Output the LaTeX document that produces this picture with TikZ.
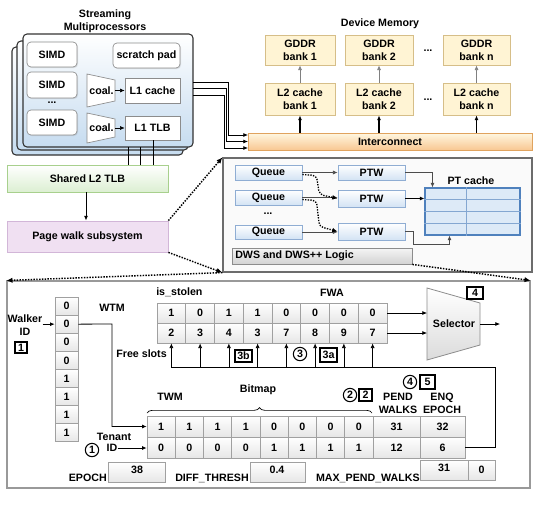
\documentclass[tikz,border=0pt]{standalone}
\usepackage{fontspec}
\setmainfont{Liberation Sans}
\usetikzlibrary{fit,arrows.meta,decorations.pathreplacing,shadows,calc}
\definecolor{smblue}{HTML}{C6DCF0}
\definecolor{grayb}{HTML}{8C8C8C}
\definecolor{greenf}{HTML}{DCEFD2}
\definecolor{greenb}{HTML}{A8D08D}
\definecolor{purpf}{HTML}{F0E0F2}
\definecolor{purpb}{HTML}{D2B6D8}
\definecolor{yelf}{HTML}{FFF4D4}
\definecolor{yelb}{HTML}{D6BE88}
\definecolor{orgf}{HTML}{F8C792}
\definecolor{orgb}{HTML}{E0A35E}
\definecolor{qf}{HTML}{D3E3F4}
\definecolor{qb}{HTML}{8FADD3}
\definecolor{ptcf}{HTML}{DDEAF7}
\definecolor{ptcb}{HTML}{4F81BD}
\definecolor{cellf}{HTML}{E6E6E6}
\definecolor{cellb}{HTML}{A0A0A0}
% box from corner to corner, text placed at its centre
\newcommand\bx[5][]{\node[#1, fit={(#3)(#4)}] (#2) {};\node[align=center] (#2-t) at (#2.center) {#5};}
\begin{document}
\begin{tikzpicture}[x=0.75pt,y=-0.75pt,
  every node/.style={font=\bfseries\fontsize{8}{9.6}\selectfont, inner sep=0pt},
  smbox/.style={draw=black!80, line width=0.8pt, rounded corners=3pt, top color=white, bottom color=smblue},
  wbox/.style={draw=grayb, fill=white, line width=0.5pt},
  rbox/.style={wbox, rounded corners=3pt, drop shadow={opacity=.2,shadow xshift=0.8pt,shadow yshift=-0.8pt}},
  l2s/.style={draw=greenb, line width=0.6pt, top color=white, bottom color=greenf},
  pws/.style={draw=purpb, line width=0.6pt, fill=purpf},
  mem/.style={draw=yelb, line width=0.6pt, fill=yelf, drop shadow={opacity=.2,shadow xshift=0.8pt,shadow yshift=-0.8pt}},
  ics/.style={draw=orgb, line width=0.6pt, top color=yelf!70, bottom color=orgf},
  qbox/.style={draw=qb, line width=0.6pt, top color=white, bottom color=qf},
  cell/.style={draw=cellb, line width=0.5pt, top color=white, bottom color=cellf},
  arr/.style={-{Latex[length=3.5pt,width=3pt]}},
  dotarr/.style={densely dotted, line width=1.1pt, -{Latex[length=4.5pt,width=4pt]}},
  tag/.style={draw=black, line width=0.8pt},
  circ/.style={draw=black, circle, line width=0.8pt, minimum size=10pt}
]
\useasboundingbox (0,0) rectangle (541,508);

% ---------------- Streaming multiprocessors ----------------
\node[align=center] (smtitle) at (105,21) {Streaming\\Multiprocessors};
\node[smbox, fit={(12,47)(183,155)}] (sm3) {};
\node[smbox, fit={(17,41)(188,150)}] (sm2) {};
\node[smbox, fit={(23,34)(193,147)}] (smf) {};
\bx[rbox]{simd1}{27,42}{77,67}{SIMD}
\bx[rbox]{simd2}{27,72}{77,98}{SIMD}
\node (sdots) at (52,103) {...};
\bx[rbox]{simd3}{27,110}{77,135}{SIMD}
\bx[rbox]{scratch}{113,43}{180,68}{scratch pad}
\draw[wbox] (87,74) -- (115,80) -- (115,101) -- (87,107) -- cycle;
\node (coal1) at (101.5,90.5) {coal.};
\bx[wbox]{l1c}{125,78}{180,103}{L1 cache}
\draw[wbox] (87,113) -- (115,119) -- (115,137) -- (87,143) -- cycle;
\node (coal2) at (101.5,128) {coal.};
\bx[wbox]{l1t}{125,116}{180,140}{L1 TLB}
\coordinate (c1e) at (115,90.5);
\coordinate (c2e) at (115,128);
\draw[arr, line width=0.4pt] (c1e) -- (c1e -| l1c.west);
\draw[arr, line width=0.4pt] (c2e) -- (c2e -| l1t.west);

% ---------------- L2 TLB, page walk ----------------
\bx[l2s]{l2tlb}{7,165}{168,192}{Shared L2 TLB}
\bx[pws]{pws}{7,221}{168,252}{Page walk subsystem}
\coordinate (v1) at (128,147);
\coordinate (v2) at (140,147);
\coordinate (v3) at (153,140);
\draw[line width=0.6pt] (v1) -- (v1 |- l2tlb.north);
\draw[line width=0.6pt] (v2) -- (v2 |- l2tlb.north);
\draw[line width=0.6pt] (v3) -- (v3 |- l2tlb.north);
\coordinate (vx) at (86,0);
\draw[arr, line width=0.7pt] (vx |- l2tlb.south) -- (vx |- pws.north);

% ---------------- Device memory ----------------
\node (dmtitle) at (380,24) {Device Memory};
\bx[mem]{g1}{265,35}{335,65}{GDDR\\bank 1}
\bx[mem]{g2}{345,35}{413,65}{GDDR\\bank 2}
\bx[mem]{gn}{443,35}{510,65}{GDDR\\bank n}
\node (gdots) at (428,51) {...};
\bx[mem]{c1}{265,83}{335,115}{L2 cache\\bank 1}
\bx[mem]{c2}{345,83}{413,115}{L2 cache\\bank 2}
\bx[mem]{cn}{443,83}{510,115}{L2 cache\\bank n}
\node (cdots) at (428,100) {...};
\bx[ics]{ic}{248,133}{532,150}{Interconnect}
\foreach \n/\g in {c1/g1,c2/g2,cn/gn}{
  \draw[arr, gray, line width=0.5pt] (\n.north) -- (\g.south);
  \draw[arr, line width=1pt] (ic.north -| \n.south) -- (\n.south);
}
\coordinate (s1) at (193,82); \coordinate (s2) at (193,88); \coordinate (s3) at (193,95);
\coordinate (i1) at (248,135); \coordinate (i2) at (248,141.5); \coordinate (i3) at (248,148);
\draw[arr, line width=0.6pt] (s1) -- ++(35,0) |- (i1);
\draw[arr, line width=0.6pt] (s2) -- ++(33,0) |- (i2);
\draw[arr, line width=0.6pt] (s3) -- ++(31,0) |- (i3);

% ---------------- DWS box ----------------
\node[draw=gray!85!black, line width=0.9pt, fill=gray!4, fit={(223,158)(532,272)}] (dws) {};
\bx[qbox]{q1}{235,165}{302,180}{Queue}
\bx[qbox]{q2}{235,190}{302,205}{Queue}
\node (qdots) at (268,214) {...};
\bx[qbox]{q3}{235,225}{302,239}{Queue}
\bx[qbox]{p1}{338,165}{405,180}{PTW}
\bx[qbox]{p2}{338,190}{405,207}{PTW}
\bx[qbox]{p3}{338,223}{405,240}{PTW}
\node (ptctitle) at (471,181) {PT cache};
\node[draw=ptcb, line width=0.8pt, fill=ptcf, fit={(425,188)(520,235)}] (ptc) {};
\draw[ptcb!70, line width=0.5pt] ($(ptc.north west)+(42,0)$) -- ($(ptc.south west)+(42,0)$);
\foreach \d in {12,24,36}{
  \draw[ptcb!70, line width=0.5pt] ($(ptc.north west)+(0,\d)$) -- ($(ptc.north east)+(0,\d)$);
}
\node[draw=grayb, line width=0.6pt, top color=gray!8, bottom color=gray!35, fit={(232,248)(412,264)}] (logic) {};
\node[anchor=west] (logictxt) at (235,256) {DWS and DWS++ Logic};

\draw[arr, gray!60!black, line width=0.5pt] (q1.east) -- (q1.east -| p1.west);
\draw[arr, gray!60!black, line width=0.5pt] (q2.east) -- (q2.east -| p2.west);
\draw[arr, gray!60!black, line width=0.5pt] (q3.east) -- (q3.east -| p3.west);
\draw[densely dotted, line width=1pt, -{Latex[length=4pt,width=3.5pt]}, rounded corners=3pt]
  ($(q1.east)+(0,2)$) -- ++(14,1) -- ++(3,19) -- (p2.west);
\draw[densely dotted, line width=1pt, -{Latex[length=4pt,width=3.5pt]}, rounded corners=3pt]
  ($(q2.east)+(0,2)$) -- ++(14,1) -- ++(3,26) -- (p3.west);
\draw[arr, gray!60!black, line width=0.5pt] (p1.east) -| ($(ptc.north west)+(8,0)$);
\draw[arr, line width=1.2pt] (p2.east) -- (p2.east -| ptc.west);
\draw[arr, gray!60!black, line width=0.5pt] (p3.east) -- ++(8,0) -- ++(0,13) -| ($(ptc.south west)+(25,0)$);

% ---------------- bottom panel ----------------
\node[draw=gray!80, line width=0.8pt, fit={(7,281)(530,488)}] (bp) {};

\draw[dotarr] (pws.north east) -- (dws.north west);
\draw[dotarr] (pws.south east) -- (dws.south west);
\draw[dotarr] (dws.south west) -- (bp.north west);
\draw[dotarr] (logic.south east) -- (bp.north east);

% WTM
\node[align=center] (wid) at (25,325) {Walker\\ID};
\bx[tag]{tg1}{15,342}{27,353}{1}
\node (wtm) at (112,308) {WTM};
\foreach \v [count=\i] in {0,0,0,0,1,1,1,1}{
  \pgfmathsetmacro\ya{297+18.1*(\i-1)}
  \pgfmathsetmacro\yb{297+18.1*\i}
  \bx[cell]{w\i}{55,\ya}{78,\yb}{\v}
}
\draw[arr, line width=0.6pt] (wid.east |- w2.west) -- (w2.west);

% FWA
\node[anchor=west] (isst) at (156,292) {is\_stolen};
\node (fwa) at (332,293) {FWA};
\foreach \t/\b [count=\i] in {1/2,0/3,1/4,1/3,0/7,0/8,0/9,0/7}{
  \pgfmathsetmacro\xa{157+28.75*(\i-1)}
  \pgfmathsetmacro\xb{157+28.75*\i}
  \bx[cell]{ft\i}{\xa,303}{\xb,323}{\t}
  \bx[cell]{fb\i}{\xa,323}{\xb,343}{\b}
}

% selector
\draw[draw=grayb, line width=0.6pt, top color=white, bottom color=gray!28] (427,288) -- (480,303) -- (480,345) -- (427,360) -- cycle;
\node (sel) at (454,324) {Selector};
\coordinate (selL) at (427,324);
\coordinate (selR) at (480,324);
\coordinate (selO) at (500,324);
\draw[arr, line width=0.5pt] (ft8.east) -- (ft8.east -| selL);
\draw[arr, line width=0.5pt] (fb8.east) -- (fb8.east -| selL);
\draw[arr, line width=0.5pt] (selR) -- (selO);
\bx[tag]{tg4}{467,287}{483,299}{4}

% free slots
\node[anchor=east] (free) at (167,354) {Free slots};
\coordinate (fsR) at (495,367);
\bx[tag]{tg3b}{235,350}{252,362}{3b}
\node[circ] (ci3) at (300,354) {3};
\bx[tag]{tg3a}{320,348}{337,362}{3a}

% TWM
\node (twm) at (170,397) {TWM};
\node (bitmap) at (258,390) {Bitmap};
\draw[decorate, decoration={brace, amplitude=4pt}, line width=0.5pt] (147,413) -- (372,413);
\foreach \t/\b [count=\i] in {1/0,1/0,1/0,1/0,0/1,0/1,0/1,0/1}{
  \pgfmathsetmacro\xa{147+28.25*(\i-1)}
  \pgfmathsetmacro\xb{147+28.25*\i}
  \bx[cell]{tt\i}{\xa,416}{\xb,437}{\t}
  \bx[cell]{tb\i}{\xa,437}{\xb,458}{\b}
}
\bx[cell]{pe1}{373,416}{420,437}{31}
\bx[cell]{pe2}{373,437}{420,458}{12}
\bx[cell]{en1}{420,416}{465,437}{32}
\bx[cell]{en2}{420,437}{465,458}{6}
\node[align=center] (pendl) at (398,403) {PEND\\WALKS};
\node[align=center] (enql) at (442,403) {ENQ\\EPOCH};
\node[circ] (ci2) at (350,395) {2};
\bx[tag]{tg2}{359,389}{372,401}{2}
\node[circ] (ci4) at (410,382) {4};
\bx[tag]{tg5}{420,375}{435,389}{5}

% free slots wiring
\draw[line width=0.6pt] (en2.east) -| (fsR) -- (fsR -| fb1.south);
\foreach \i in {1,...,8}{
  \draw[arr, line width=0.5pt] (fsR -| fb\i.south) -- (fb\i.south);
}
% WTM to TWM
\coordinate (wtmx) at (112,324);
\draw[arr, line width=0.6pt] (w2.east) -- (wtmx) |- (tt1.west);

% tenant
\node (tenant) at (114,437) {Tenant};
\node (idl) at (112,448) {ID};
\node[circ] (ci1) at (92,450) {1};
\draw[arr, line width=0.6pt] (idl.east) -- (idl.east -| tb1.west);

% registers
\node[anchor=east] (epochl) at (107,478) {EPOCH};
\node[cell, fit={(108,462)(165,482)}] (epoch) {};
\node (epochv) at (137,470) {38};
\node[anchor=east] (diffl) at (249,478) {DIFF\_THRESH};
\node[cell, fit={(250,462)(305,482)}] (diff) {};
\node (diffv) at (277,470) {0.4};
\node[anchor=east] (maxl) at (420,478) {MAX\_PEND\_WALKS};
\node[cell, fit={(420,460)(468,480)}] (max1) {};
\node (max1v) at (444,468) {31};
\bx[cell]{max2}{468,460}{495,480}{0}
\end{tikzpicture}
\end{document}
